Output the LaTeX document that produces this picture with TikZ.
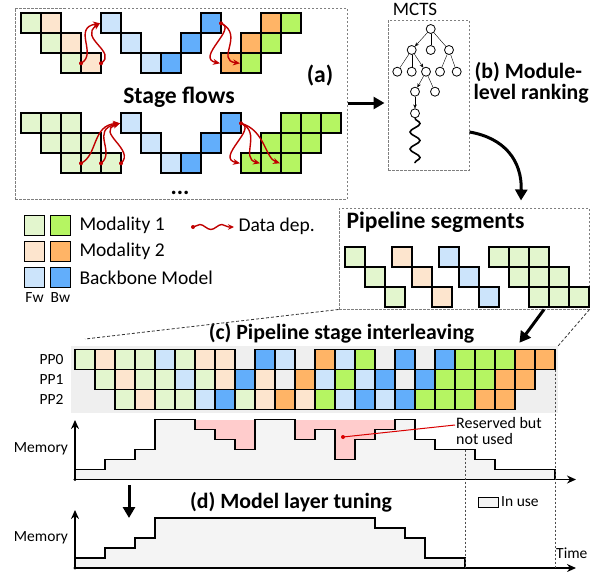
\documentclass[tikz,border=0pt]{standalone}
\usepackage{fontspec}
\setmainfont{Carlito}
\usepackage{tikz}
\usetikzlibrary{arrows.meta,decorations.pathmorphing,calc}

\definecolor{mfw}{HTML}{E3F6CE}
\definecolor{mbw}{HTML}{B5F562}
\definecolor{nfw}{HTML}{FDE5CE}
\definecolor{nbw}{HTML}{FFB466}
\definecolor{bfw}{HTML}{CCE4FB}
\definecolor{bbw}{HTML}{62AEFB}
\definecolor{depred}{HTML}{C00000}
\definecolor{respink}{HTML}{FFCCCC}
\definecolor{inuse}{HTML}{F4F4F4}
\definecolor{gridbg}{HTML}{EFEFEF}
\definecolor{boxgray}{HTML}{7F7F7F}

\tikzset{
  blockcell/.style={draw=black,line width=1.7pt},
  legbox/.style={draw=black,line width=1.6pt},
  dashbox/.style={draw=boxgray,line width=1pt,dash pattern=on 2.5pt off 1.5pt,inner sep=0pt},
  zoomline/.style={draw=black!80,line width=0.8pt,dash pattern=on 3pt off 2pt},
  guide/.style={draw=black!70,line width=0.9pt,dash pattern=on 2pt off 2pt},
  bigarrow/.style={line width=3pt,-{Triangle[length=11pt,width=12pt]}},
  dep/.style={draw=depred,line width=1.4pt,-{Stealth[length=7pt,width=6pt]}},
  mcts/.style={circle,draw,fill=white,line width=0.8pt,minimum size=9pt,inner sep=0pt},
  treearrow/.style={-{Stealth[length=4pt,width=3.5pt]}},
  axisarrow/.style={line width=1.5pt,-{Stealth[length=9pt,width=8pt]}},
  memline/.style={draw=black,line width=1.3pt,fill=inuse},
  bigbold/.style={font=\fontsize{23.6}{26}\selectfont\bfseries},
  titlebold/.style={font=\fontsize{21.8}{24}\selectfont\bfseries},
  legtext/.style={font=\fontsize{19.5}{22}\selectfont},
  smalltext/.style={font=\fontsize{15.5}{17}\selectfont}
}

% one square block of a stage, top left corner at (#1,#2)
\newcommand{\blk}[3]{\draw[blockcell,fill=#3] (#1,#2) rectangle ++(20,20);}

\begin{document}
\begin{tikzpicture}[x=1pt,y=-1pt]
  \useasboundingbox (0,0) rectangle (595,571);

  % (a) Stage flows
  \node[dashbox,minimum width=332pt,minimum height=191pt] (flowbox) at (181,103.5) {};
  % upper flow
  \foreach \x/\y/\col in {21/13.3/mfw, 41/13.3/nfw, 41/33.3/mfw, 61/33.3/nfw, 61/53.3/mfw, 81/53.3/nfw,
      101/13.3/bfw, 121/33.3/bfw, 141/53.3/bfw, 161/53.3/bbw, 181/33.3/bbw, 201/13.3/bbw,
      221/53.3/nbw, 241/53.3/mbw, 241/33.3/nbw, 261/33.3/mbw, 261/13.3/nbw, 281/13.3/mbw}
    {\blk{\x}{\y}{\col}}
  % lower flow
  \foreach \x/\y/\col in {21/113.3/mfw, 41/113.3/mfw, 61/113.3/mfw, 41/133.3/mfw, 61/133.3/mfw, 81/133.3/mfw,
      61/153.3/mfw, 81/153.3/mfw, 101/153.3/mfw,
      121/113.3/bfw, 141/133.3/bfw, 161/153.3/bfw, 181/153.3/bbw, 201/133.3/bbw, 221/113.3/bbw,
      241/153.3/mbw, 261/153.3/mbw, 281/153.3/mbw, 261/133.3/mbw, 281/133.3/mbw, 301/133.3/mbw,
      281/113.3/mbw, 301/113.3/mbw, 321/113.3/mbw}
    {\blk{\x}{\y}{\col}}
  % data dependencies
  \draw[dep] (81,63.3) .. controls (98,54) and (72,28) .. (100,23.3);
  \draw[dep] (101,63.3) .. controls (118,52) and (78,38) .. (100,23.3);
  \draw[dep] (221,23.3) .. controls (238,28) and (195,58) .. (220,63.3);
  \draw[dep] (221,23.3) .. controls (245,35) and (215,60) .. (240,63.3);
  \draw[dep] (81,163.3) .. controls (98,155) and (92,125) .. (120,123.3);
  \draw[dep] (101,163.3) .. controls (116,152) and (90,130) .. (120,123.3);
  \draw[dep] (121,163.3) .. controls (136,150) and (95,132) .. (120,123.3);
  \draw[dep] (241,123.3) .. controls (258,128) and (215,158) .. (240,163.3);
  \draw[dep] (241,123.3) .. controls (262,132) and (240,158) .. (260,163.3);
  \draw[dep] (241,123.3) .. controls (265,130) and (265,158) .. (280,163.3);
  \foreach \x/\y in {81/63.3, 101/63.3, 221/23.3, 81/163.3, 101/163.3, 121/163.3, 241/123.3}
    {\fill[depred] (\x,\y) circle (2pt);}
  \node[bigbold] (flowtitle) at (179,97) {Stage flows};
  \node[bigbold] (flowtag) at (320,76) {(a)};
  \node[bigbold,anchor=base] (flowdots) at (180,194.5) {...};

  % (b) MCTS
  \node[dashbox,minimum width=81pt,minimum height=150pt] (mctsbox) at (428.5,95) {};
  \node[legtext,font=\fontsize{19}{21}\selectfont] (mctstitle) at (415,9) {MCTS};
  \node[mcts] (r) at (430.7,29) {};
  \node[mcts] (a1) at (411.7,50) {};
  \node[mcts] (a2) at (430.7,50) {};
  \node[mcts] (a3) at (449,50) {};
  \node[mcts] (b1) at (397.3,71.7) {};
  \node[mcts] (b2) at (411.7,71.7) {};
  \node[mcts] (b3) at (426,71.7) {};
  \node[mcts] (b4) at (440,71.7) {};
  \node[mcts] (b5) at (456.7,71.7) {};
  \node[mcts] (c1) at (415,91.7) {};
  \node[mcts] (c2) at (435,91.7) {};
  \node[mcts] (d1) at (415,113.3) {};
  \coordinate (rollend) at (415,163);
  \draw[treearrow] (r) -- (a1);
  \draw (r) -- (a2);
  \draw (r) -- (a3);
  \draw (a1) -- (b1);
  \draw (a1) -- (b2);
  \draw[treearrow] (a1) -- (b3);
  \draw (a3) -- (b4);
  \draw (a3) -- (b5);
  \draw[treearrow] (b3) -- (c1);
  \draw (b3) -- (c2);
  \draw[treearrow] (c1) -- (d1);
  \draw[line width=1.6pt,decorate,decoration={snake,amplitude=5pt,segment length=17pt}] (d1) -- (rollend);
  \node[titlebold,anchor=west] (mctsname1) at (471,72) {(b) Module-};
  \node[titlebold,anchor=west] (mctsname2) at (470,94) {level ranking};

  % legend
  \foreach \row/\fw/\bw/\txt in {225.5/mfw/mbw/Modality 1, 251.5/nfw/nbw/Modality 2, 277.5/bfw/bbw/Backbone Model}
  {
    \draw[legbox,fill=\fw] (24.5,\row-10) rectangle ++(20,20);
    \draw[legbox,fill=\bw] (50.5,\row-10) rectangle ++(20,20);
    \node[legtext,anchor=west] (leg\fw) at (76,\row) {\txt};
  }
  \node[smalltext] (fwtext) at (34.5,298) {Fw};
  \node[smalltext] (bwtext) at (60.5,298) {Bw};
  \coordinate (depstart) at (193,227);
  \coordinate (depend) at (234,227);
  \draw[draw=depred,line width=1.4pt,decorate,decoration={snake,amplitude=2.5pt,segment length=22pt,post length=4pt},
    -{Stealth[length=6pt,width=5.5pt]}] (depstart) -- (depend);
  \fill[depred] (depstart) circle (2pt);
  \node[legtext,anchor=west] (deptext) at (235,226.5) {Data dep.};

  % Pipeline segments
  \node[dashbox,minimum width=250pt,minimum height=101pt] (segbox) at (464,258.5) {};
  \node[bigbold,anchor=west] (segtitle) at (343,222.7) {Pipeline segments};
  \foreach \x/\y/\col in {345/246.7/mfw, 365/266.7/mfw, 385/286.7/mfw,
      391.7/246.7/nfw, 411.7/266.7/nfw, 431.7/286.7/nfw,
      439.3/246.7/bfw, 459.3/266.7/bfw, 479.3/286.7/bfw,
      489.3/246.7/mfw, 509.3/246.7/mfw, 529.3/246.7/mfw,
      509.3/266.7/mfw, 529.3/266.7/mfw, 549.3/266.7/mfw,
      529.3/286.7/mfw, 549.3/286.7/mfw, 569.3/286.7/mfw}
    {\blk{\x}{\y}{\col}}

  % arrows between the steps
  \draw[bigarrow,shorten >=3pt] (flowbox.east |- 0,103) -- (mctsbox.west |- 0,103);
  \draw[bigarrow] ([yshift=-37pt]mctsbox.east) .. controls +(35,6) and +(1,-40) .. ([xshift=57pt,yshift=7pt]segbox.north);

  % (c) Pipeline stage interleaving
  \node[fill=gridbg,minimum width=487pt,minimum height=67pt,inner sep=0pt] (gridbox) at (314.5,379.5) {};
  \def\gap{none}
  \foreach \col [count=\i from 0] in {mfw,nfw,mfw,mfw,bfw,mfw,nfw,nfw,none,bbw,bfw,none,nbw,bfw,mbw,none,bbw,none,bbw,mbw,mbw,mbw,nbw,nbw}
    {\ifx\col\gap\else\blk{75+20*\i}{349.5}{\col}\fi}
  \foreach \col [count=\i from 1] in {mfw,nfw,mfw,mfw,bfw,mfw,nfw,bbw,nfw,none,nbw,bfw,mbw,bfw,bbw,none,bbw,mbw,mbw,mbw,nbw,nbw}
    {\ifx\col\gap\else\blk{75+20*\i}{369.5}{\col}\fi}
  \foreach \col [count=\i from 2] in {mfw,nfw,mfw,mfw,bfw,bbw,mfw,nfw,nbw,nfw,mbw,bfw,bbw,bfw,bbw,mbw,mbw,mbw,nbw,nbw}
    {\ifx\col\gap\else\blk{75+20*\i}{389.5}{\col}\fi}
  \foreach \n in {0,1,2}
    {\node[smalltext,anchor=east] (pp\n) at (67,359.5+20*\n) {PP\n};}
  \node[titlebold] (gridtitle) at (341.5,333) {(c) Pipeline stage interleaving};
  \coordinate (zoomleft) at (85,339);
  \draw[zoomline] (segbox.south west) -- (zoomleft);
  \draw[zoomline] (segbox.south east) -- (gridbox.north east);
  \draw[bigarrow,shorten >=5pt] ([xshift=80pt]segbox.south) -- ([xshift=202pt,yshift=-1pt]gridbox.north);

  % memory before tuning
  \fill[respink] (195,419.5) rectangle (395,460);
  \draw[memline] (75,479.5) -- (75,469.5) -- (105,469.5) -- (105,459.5) -- (135,459.5) -- (135,449.5)
    -- (155,449.5) -- (155,419.5) -- (195,419.5) -- (195,429.5) -- (215,429.5) -- (215,439.5)
    -- (235,439.5) -- (235,449.5) -- (255,449.5) -- (255,419.5) -- (295,419.5) -- (295,439.5)
    -- (315,439.5) -- (315,429.5) -- (335,429.5) -- (335,459.5) -- (355,459.5) -- (355,439.5)
    -- (375,439.5) -- (375,429.5) -- (395,429.5) -- (395,419.5) -- (415,419.5) -- (415,439.5)
    -- (435,439.5) -- (435,449.5) -- (475,449.5) -- (475,459.5) -- (495,459.5) -- (495,469.5)
    -- (555,469.5) -- (555,479.5) -- cycle;
  \coordinate (o1) at (75,479.5);
  \coordinate (y1) at (75,420);
  \coordinate (x1) at (576,479.5);
  \draw[axisarrow] (o1) -- (y1);
  \draw[axisarrow] (o1) -- (x1);
  \fill (o1) circle (1.6pt);
  \node[smalltext] (mem1) at (41,449) {Memory};
  \coordinate (resdot) at (343,437);
  \node[font=\fontsize{16}{16.5}\selectfont,anchor=west,align=left,inner sep=1pt] (reslabel) at (455,431) {Reserved but\\not used};
  \draw[red!85!black,line width=1pt] (resdot) -- ([yshift=6pt]reslabel.west);
  \fill[red!85!black] (resdot) circle (2pt);

  % (d) Model layer tuning
  \coordinate (tunetop) at (129,485);
  \coordinate (tunebot) at (129,518);
  \draw[bigarrow] (tunetop) -- (tunebot);
  \node[titlebold] (tunetitle) at (291,502) {(d) Model layer tuning};
  \draw[memline] (75,568) -- (75,558) -- (105,558) -- (105,548) -- (135,548) -- (135,538)
    -- (155,538) -- (155,518) -- (375,518) -- (375,528) -- (405,528) -- (405,538)
    -- (425,538) -- (425,558) -- (465,558) -- (465,568) -- cycle;
  \coordinate (o2) at (75,568);
  \coordinate (y2) at (75,510);
  \coordinate (x2) at (576,568);
  \draw[axisarrow] (o2) -- (y2);
  \draw[axisarrow] (o2) -- (x2);
  \fill (o2) circle (1.6pt);
  \node[smalltext] (mem2) at (41,538) {Memory};
  \node[smalltext,anchor=west,inner sep=1pt] (timetext) at (555,553) {Time};
  \draw[draw=black,line width=0.8pt,fill=inuse] (478,497) rectangle (498,507);
  \node[smalltext,anchor=west,inner sep=1pt] (inusetext) at (500,502) {In use};

  % time marks
  \draw[guide] (555,369.5) -- (555,568);
  \draw[guide] (465,449.5) -- (465,568);
\end{tikzpicture}
\end{document}
